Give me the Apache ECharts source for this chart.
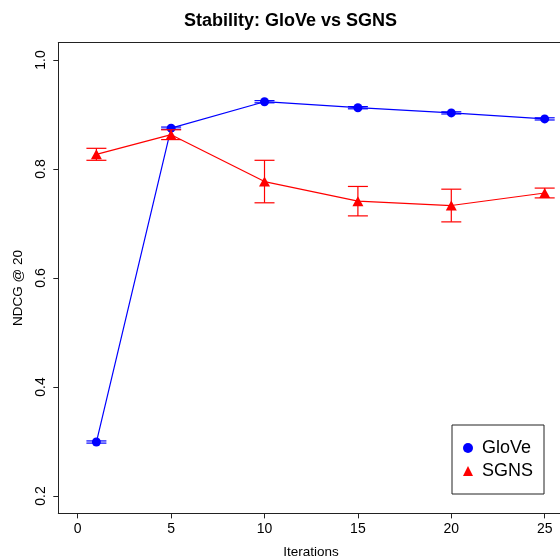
<!DOCTYPE html>
<html>
<head>
<meta charset="utf-8">
<script src="https://cdn.jsdelivr.net/npm/echarts@6/dist/echarts.min.js"></script>
<style>html,body{margin:0;padding:0;background:#fff;}#c{width:560px;height:559px;}</style>
</head>
<body>
<div id="c"></div>
<script>
var iterations = [1, 5, 10, 15, 20, 25];
var gloveMean = [0.299, 0.875, 0.9235, 0.9125, 0.903, 0.892];
var gloveErr  = [0.002, 0.002, 0.002, 0.002, 0.002, 0.002];
var sgnsMean  = [0.827, 0.863, 0.777, 0.741, 0.733, 0.756];
var sgnsErr   = [0.011, 0.009, 0.039, 0.027, 0.030, 0.009];
var xTicks = [0, 5, 10, 15, 20, 25];
var yTicks = [0.2, 0.4, 0.6, 0.8, 1.0];

var FONT = 'Liberation Sans, Arial, Helvetica, sans-serif';

function pts(m) { return iterations.map(function (x, i) { return [x, m[i]]; }); }
function bars(m, e) { return iterations.map(function (x, i) { return [x, m[i] - e[i], m[i] + e[i]]; }); }

function errRender(color) {
  return function (params, api) {
    var x = api.value(0), lo = api.value(1), hi = api.value(2);
    var pLo = api.coord([x, lo]), pHi = api.coord([x, hi]);
    var hw = 10;
    var st = { stroke: color, lineWidth: 1.2 };
    return {
      type: 'group',
      children: [
        { type: 'line', shape: { x1: pLo[0], y1: pLo[1], x2: pHi[0], y2: pHi[1] }, style: st },
        { type: 'line', shape: { x1: pLo[0] - hw, y1: pLo[1], x2: pLo[0] + hw, y2: pLo[1] }, style: st },
        { type: 'line', shape: { x1: pHi[0] - hw, y1: pHi[1], x2: pHi[0] + hw, y2: pHi[1] }, style: st }
      ]
    };
  };
}

var axisCol = '#222';
var chart = echarts.init(document.getElementById('c'), null, { renderer: 'canvas' });
chart.setOption({
  animation: false,
  backgroundColor: '#fff',
  title: {
    text: 'Stability: GloVe vs SGNS',
    left: 184, top: 12, padding: 0,
    textStyle: { fontFamily: FONT, fontSize: 18, fontWeight: 'bold', color: '#000' }
  },
  grid: {
    left: 58.3, top: 42.6, right: 0, bottom: 45.6, show: false
  },
  legend: {
    orient: 'vertical',
    left: 452, top: 425,
    padding: [14, 11, 14, 11],
    itemWidth: 10, itemHeight: 10, itemGap: 5,
    borderColor: axisCol, borderWidth: 1, backgroundColor: '#fff',
    textStyle: { fontFamily: FONT, fontSize: 18, color: '#000', lineHeight: 18, padding: [0, 0, 0, 4] },
    data: [
      { name: 'GloVe', icon: 'circle' },
      { name: 'SGNS', icon: 'triangle' }
    ]
  },
  xAxis: [
    {
      type: 'value', min: -1.04, max: 25.82, position: 'bottom',
      splitLine: { show: false },
      axisLine: { show: true, onZero: false, lineStyle: { color: axisCol, width: 1 } },
      axisTick: { show: true, inside: false, length: 5, lineStyle: { color: axisCol }, customValues: xTicks },
      axisLabel: { customValues: xTicks, margin: 9, fontFamily: FONT, fontSize: 14, color: '#000' }
    },
    {
      type: 'value', min: -1.04, max: 25.82, position: 'top',
      splitLine: { show: false },
      axisLine: { show: true, onZero: false, lineStyle: { color: axisCol, width: 1 } },
      axisTick: { show: false }, axisLabel: { show: false }
    }
  ],
  yAxis: {
    type: 'value', min: 0.168, max: 1.032,
    splitLine: { show: false },
    axisLine: { show: true, onZero: false, lineStyle: { color: axisCol, width: 1 } },
    axisTick: { show: true, inside: false, length: 5, lineStyle: { color: axisCol }, customValues: yTicks },
    axisLabel: {
      customValues: yTicks, rotate: 90, margin: 10, fontFamily: FONT, fontSize: 14, color: '#000',
      formatter: function (v) { return v.toFixed(1); }
    }
  },
  graphic: [
    { type: 'text', left: 310.8 - 27.5, top: 545, style: { text: 'Iterations', font: '13.5px ' + FONT, fill: '#000' } },
    { type: 'text', x: 18.3, y: 288, rotation: Math.PI / 2,
      style: { text: 'NDCG @ 20', font: '13.5px ' + FONT, fill: '#000', align: 'center', verticalAlign: 'middle' } }
  ],
  series: [
    {
      name: 'GloVe', type: 'line', data: pts(gloveMean),
      symbol: 'circle', symbolSize: 9, color: '#0000ff',
      lineStyle: { color: '#0000ff', width: 1.2 }, itemStyle: { color: '#0000ff' }, z: 3
    },
    {
      name: 'SGNS', type: 'line', data: pts(sgnsMean),
      symbol: 'triangle', symbolSize: [11, 10], color: '#ff0000',
      lineStyle: { color: '#ff0000', width: 1.2 }, itemStyle: { color: '#ff0000' }, z: 3
    },
    { name: 'GloVe', type: 'custom', data: bars(gloveMean, gloveErr), renderItem: errRender('#0000ff'), z: 4, silent: true },
    { name: 'SGNS', type: 'custom', data: bars(sgnsMean, sgnsErr), renderItem: errRender('#ff0000'), z: 4, silent: true }
  ]
});
</script>
</body>
</html>
